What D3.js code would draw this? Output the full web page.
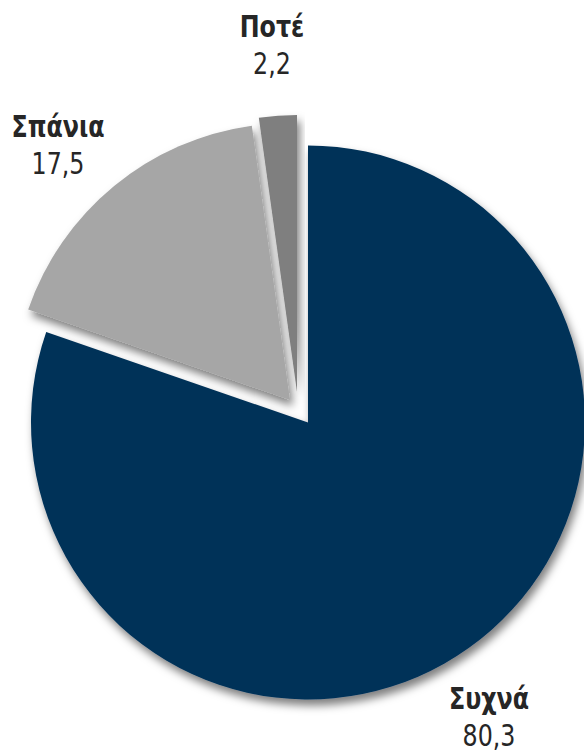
<!DOCTYPE html>
<html lang="el">
<head>
<meta charset="utf-8">
<script src="https://cdn.jsdelivr.net/npm/d3@7"></script>
<style>
  html, body { margin: 0; padding: 0; background: #fff; }
  svg { display: block; }
  .lbl { font-family: "Liberation Sans Narrow", "DejaVu Sans Condensed", "Arial Narrow", sans-serif; fill: #262626; }
  .lbl .name { font-weight: bold; }
</style>
</head>
<body>
<svg id="chart" width="584" height="752"></svg>
<script>
// Survey shares (%)
const categories = ["Συχνά", "Σπάνια", "Ποτέ"];
const values = [80.3, 17.5, 2.2];
const colors = ["#003258", "#a6a6a6", "#7f7f7f"];

// Greek number formatting (decimal comma)
const fmt = d3.formatLocale({ decimal: ",", thousands: ".", grouping: [3], currency: ["", " €"] }).format(".1f");

const W = 584, H = 752;
const cx = 308, cy = 422.5, R = 277;

// Pull-out offsets of the exploded slices
const explode = [[0, 0], [-18, -22.5], [-11, -30.5]];
// Label anchors (centre of the two-line label)
const labelAt = [[489, 717], [58, 145], [272, 45]];

const svg = d3.select("#chart");

const defs = svg.append("defs");
const f = defs.append("filter").attr("id", "shadow")
  .attr("x", "-20%").attr("y", "-20%").attr("width", "140%").attr("height", "140%");
f.append("feDropShadow")
  .attr("dx", 3).attr("dy", 6).attr("stdDeviation", 4.5)
  .attr("flood-color", "#000").attr("flood-opacity", 0.5);

const pie = d3.pie().sort(null).value(d => d)(values);
const arc = d3.arc().innerRadius(0).outerRadius(R);

const g = svg.append("g").attr("transform", `translate(${cx},${cy})`);

g.selectAll("path.slice")
  .data(pie)
  .join("path")
  .attr("class", "slice")
  .attr("transform", (d, i) => `translate(${explode[i][0]},${explode[i][1]})`)
  .attr("d", arc)
  .attr("fill", (d, i) => colors[i])
  .attr("filter", "url(#shadow)");

const labels = svg.selectAll("g.lbl")
  .data(pie)
  .join("g")
  .attr("class", "lbl")
  .attr("transform", (d, i) => `translate(${labelAt[i][0]},${labelAt[i][1]}) scale(0.88,1)`);

labels.append("text")
  .attr("class", "name")
  .attr("text-anchor", "middle")
  .attr("y", -8)
  .attr("font-size", 30)
  .text((d, i) => categories[i]);

labels.append("text")
  .attr("text-anchor", "middle")
  .attr("y", 29)
  .attr("font-size", 30)
  .text(d => fmt(d.data));
</script>
</body>
</html>
